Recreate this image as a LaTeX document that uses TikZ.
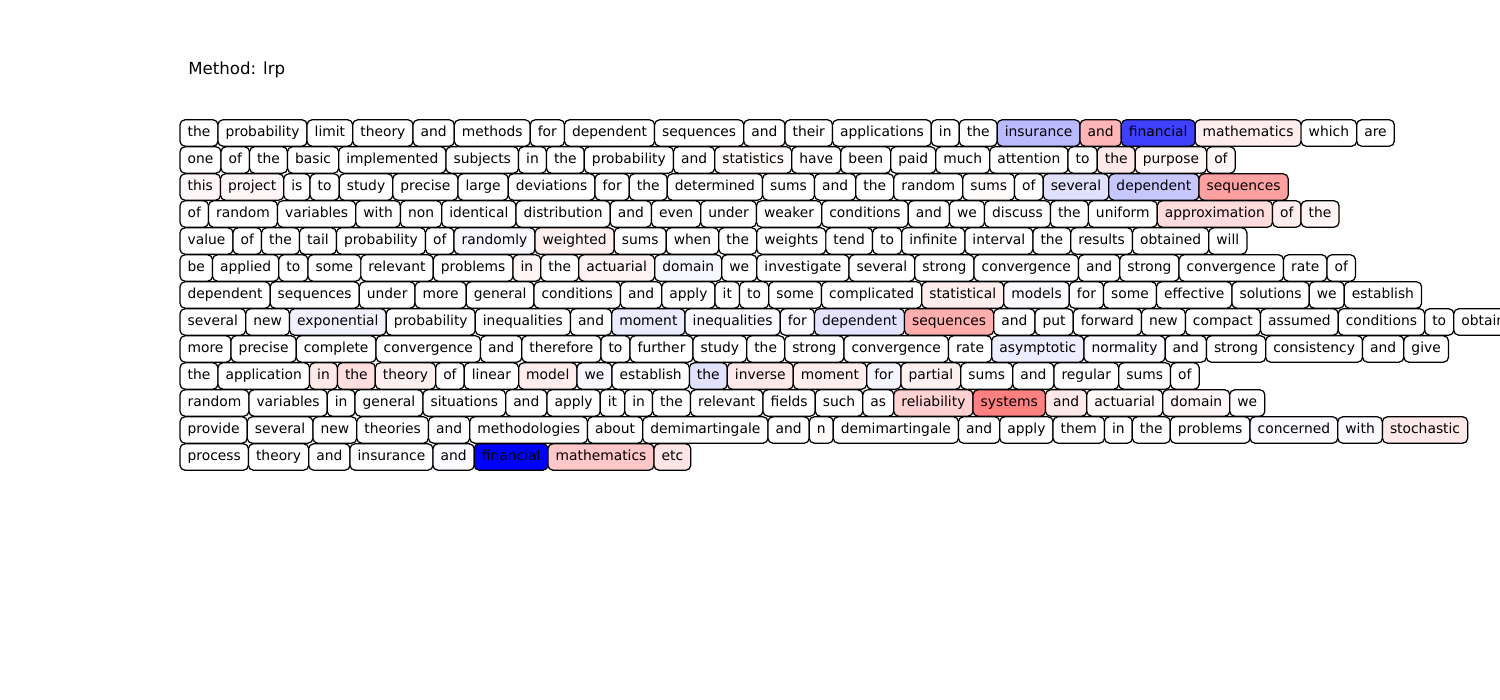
\documentclass[tikz,border=0pt]{standalone}
\usepackage{fontspec}
\setmainfont{DejaVu Sans}
\tikzset{
  tok/.style={draw, rounded corners=3.5pt, line width=0.9pt, anchor=west,
    inner xsep=5.5pt, inner ysep=0pt, outer sep=0pt, minimum height=19pt,
    text height=7.5pt, text depth=2.3pt, font=\fontsize{10}{12}\selectfont},
  title/.style={anchor=west, inner sep=0pt, font=\fontsize{12}{14}\selectfont}
}
% one row of word boxes: #1 row number, #2 y, #3 word/colour list
\newcommand\tokrow[3]{%
  \foreach \w/\c [count=\i, remember=\i as \j (initially 0)] in {#3} {
    \ifnum\i=1
      \node[tok, fill=\c] (r#1w\i) at (180,#2) {\w};
    \else
      \node[tok, fill=\c] (r#1w\i) at (r#1w\j.east) {\w};
    \fi
  }}
\begin{document}
\begin{tikzpicture}[x=0.01in, y=-0.01in]
  \useasboundingbox (0,0) rectangle (1500,700);
  \node[title] (method) at (188,70) {Method: lrp};
  \tokrow{1}{133}{the/white, probability/white, limit/white, theory/white, and/white, methods/white, for/white, dependent/white, sequences/white, and/white, their/white, applications/white, in/white, the/white, insurance/blue!27, and/red!29, financial/blue!75, mathematics/red!7, which/white, are/white}
  \tokrow{2}{160}{one/white, of/white, the/white, basic/white, implemented/white, subjects/white, in/white, the/white, probability/white, and/white, statistics/red!2, have/white, been/white, paid/white, much/white, attention/white, to/white, the/red!9, purpose/red!3, of/red!3}
  \tokrow{3}{187}{this/red!3, project/red!3, is/white, to/white, study/white, precise/white, large/white, deviations/white, for/white, the/white, determined/white, sums/white, and/white, the/white, random/white, sums/red!1, of/white, several/blue!12, dependent/blue!22, sequences/red!37}
  \tokrow{4}{214}{of/white, random/white, variables/white, with/white, non/white, identical/white, distribution/white, and/white, even/white, under/white, weaker/white, conditions/white, and/white, we/white, discuss/white, the/white, uniform/white, approximation/red!14, of/red!7, the/red!4}
  \tokrow{5}{241}{value/white, of/white, the/white, tail/white, probability/white, of/white, randomly/blue!3, weighted/red!6, sums/white, when/white, the/white, weights/white, tend/white, to/white, infinite/white, interval/white, the/white, results/white, obtained/white, will/white}
  \tokrow{6}{268}{be/white, applied/white, to/white, some/white, relevant/white, problems/white, in/red!4, the/white, actuarial/red!5, domain/blue!3, we/white, investigate/white, several/white, strong/white, convergence/white, and/white, strong/white, convergence/white, rate/white, of/white}
  \tokrow{7}{295}{dependent/white, sequences/white, under/white, more/white, general/white, conditions/white, and/white, apply/white, it/white, to/white, some/white, complicated/white, statistical/red!7, models/blue!2, for/white, some/white, effective/white, solutions/white, we/white, establish/white}
  \tokrow{8}{322}{several/white, new/white, exponential/blue!6, probability/white, inequalities/white, and/white, moment/blue!8, inequalities/blue!2, for/blue!2, dependent/blue!11, sequences/red!32, and/white, put/white, forward/white, new/white, compact/white, assumed/white, conditions/white, to/white, obtain/white}
  \tokrow{9}{349}{more/white, precise/white, complete/white, convergence/white, and/white, therefore/white, to/white, further/white, study/white, the/white, strong/white, convergence/white, rate/white, asymptotic/blue!7, normality/blue!2, and/white, strong/white, consistency/white, and/white, give/white}
  \tokrow{10}{376}{the/white, application/white, in/red!9, the/red!13, theory/red!6, of/white, linear/white, model/red!7, we/blue!3, establish/white, the/blue!12, inverse/red!9, moment/red!7, for/blue!4, partial/red!6, sums/white, and/white, regular/white, sums/white, of/white}
  \tokrow{11}{403}{random/white, variables/white, in/white, general/white, situations/white, and/white, apply/white, it/white, in/white, the/white, relevant/white, fields/white, such/white, as/white, reliability/red!18, systems/red!50, and/red!9, actuarial/red!2, domain/red!3, we/white}
  \tokrow{12}{430}{provide/white, several/white, new/white, theories/white, and/white, methodologies/white, about/white, demimartingale/white, and/white, n/red!1, demimartingale/white, and/white, apply/white, them/white, in/white, the/white, problems/white, concerned/blue!2, with/blue!2, stochastic/red!9}
  \tokrow{13}{457}{process/white, theory/white, and/white, insurance/white, and/blue!2, financial/blue, mathematics/red!22, etc/red!10}
\end{tikzpicture}
\end{document}
